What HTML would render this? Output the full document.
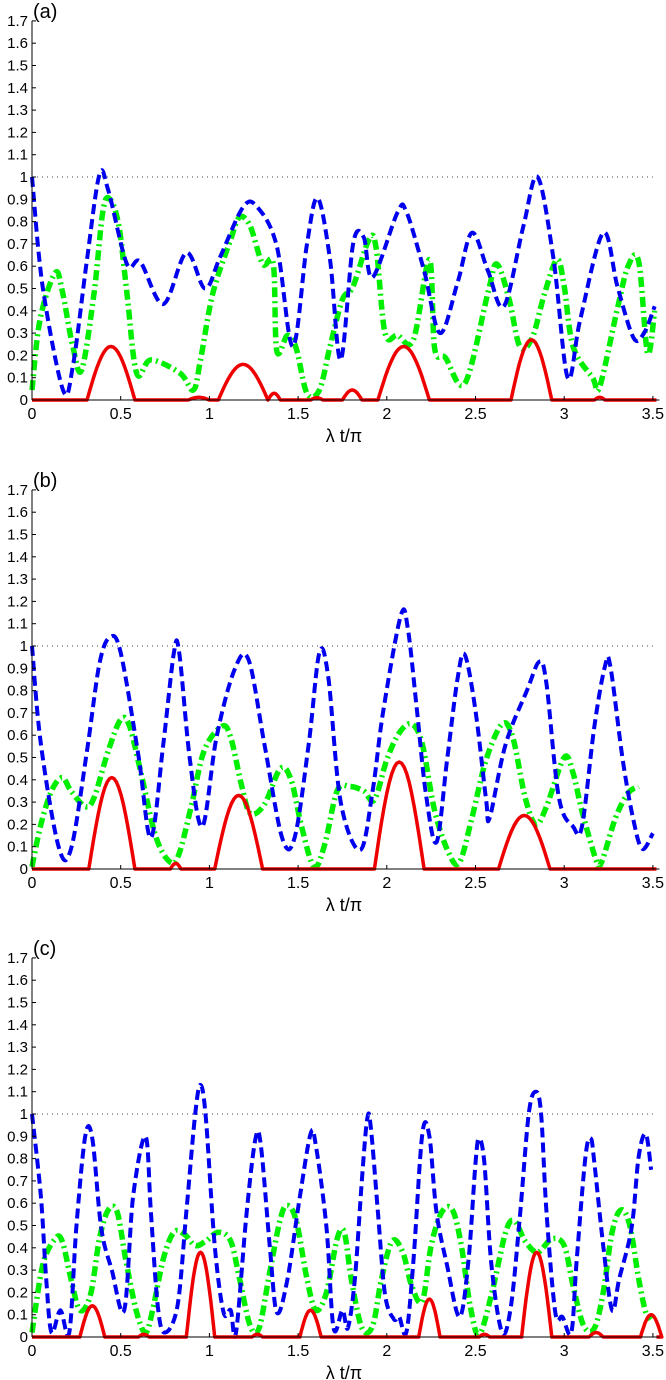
<!DOCTYPE html>
<html><head><meta charset="utf-8"><style>
html,body{margin:0;padding:0;background:#fff;}
svg{display:block;font-family:"Liberation Sans",Arial,sans-serif;}
</style></head><body>
<svg id="chart" width="666" height="1380" viewBox="0 0 666 1380" xmlns="http://www.w3.org/2000/svg"></svg>
<script>
// ---- Panel (a) data ----
const aBlueX=[0,0.06,0.175,0.23,0.31,0.38,0.43,0.535,0.61,0.74,0.87,0.975,1.06,1.19,1.27,1.38,1.47,1.55,1.61,1.68,1.74,1.81,1.87,1.92,2.06,2.11,2.21,2.30,2.40,2.48,2.57,2.66,2.77,2.85,2.94,3.02,3.09,3.22,3.30,3.39,3.45,3.51];
const aBlueV=[1.0,0.51,0.045,0.15,0.63,1.01,0.94,0.61,0.62,0.43,0.66,0.50,0.64,0.865,0.865,0.69,0.24,0.70,0.905,0.63,0.18,0.70,0.73,0.55,0.84,0.845,0.58,0.30,0.53,0.75,0.58,0.42,0.78,1.0,0.63,0.10,0.36,0.75,0.51,0.28,0.30,0.42];
const aGreenX=[0,0.045,0.13,0.17,0.23,0.28,0.35,0.40,0.44,0.49,0.535,0.59,0.67,0.835,0.91,0.95,1.02,1.12,1.17,1.23,1.30,1.36,1.38,1.44,1.49,1.55,1.62,1.68,1.75,1.81,1.90,1.94,1.99,2.06,2.15,2.24,2.27,2.33,2.44,2.57,2.62,2.69,2.75,2.82,2.89,2.96,3.0,3.05,3.16,3.2,3.30,3.36,3.42,3.47,3.51];
const aGreenV=[0.045,0.36,0.57,0.49,0.24,0.135,0.48,0.85,0.90,0.78,0.48,0.12,0.18,0.12,0.045,0.18,0.48,0.72,0.82,0.78,0.61,0.61,0.22,0.29,0.23,0.03,0.045,0.24,0.45,0.51,0.72,0.68,0.30,0.29,0.27,0.63,0.23,0.19,0.075,0.48,0.61,0.45,0.24,0.28,0.48,0.63,0.51,0.24,0.10,0.06,0.41,0.60,0.62,0.21,0.40];
const aRedStart=[0.31,0.88,1.05,1.33,1.57,1.75,1.95,2.70,3.17];
const aRedEnd=[0.58,1.0,1.33,1.40,1.64,1.86,2.24,2.93,3.23];
const aRedPeak=[0.24,0.012,0.16,0.03,0.01,0.045,0.24,0.27,0.012];
// ---- Panel (b) data ----
const bBlueX=[0,0.05,0.15,0.22,0.31,0.38,0.44,0.50,0.60,0.67,0.74,0.80,0.83,0.89,0.96,1.04,1.14,1.22,1.31,1.41,1.48,1.56,1.62,1.67,1.74,1.85,1.92,1.98,2.08,2.12,2.17,2.22,2.28,2.34,2.40,2.44,2.50,2.56,2.58,2.67,2.79,2.86,2.90,2.97,3.05,3.10,3.17,3.23,3.26,3.33,3.39,3.44,3.5];
const bBlueV=[1.0,0.56,0.10,0.09,0.53,0.92,1.04,0.97,0.51,0.14,0.56,0.97,0.97,0.49,0.19,0.59,0.89,0.94,0.56,0.14,0.14,0.56,0.97,0.86,0.30,0.085,0.35,0.71,1.14,1.07,0.71,0.34,0.12,0.49,0.86,0.96,0.71,0.31,0.23,0.56,0.80,0.93,0.83,0.32,0.19,0.19,0.64,0.91,0.91,0.49,0.22,0.09,0.16];
const bGreenX=[0,0.05,0.11,0.17,0.22,0.30,0.35,0.43,0.50,0.55,0.62,0.70,0.78,0.83,0.90,0.97,1.07,1.12,1.18,1.23,1.31,1.40,1.46,1.52,1.59,1.65,1.72,1.79,1.87,1.93,2.0,2.07,2.14,2.20,2.27,2.35,2.41,2.48,2.56,2.65,2.71,2.78,2.84,2.90,3.0,3.05,3.1,3.18,3.21,3.29,3.36,3.42];
const bGreenV=[0.01,0.2,0.35,0.41,0.35,0.28,0.32,0.53,0.67,0.64,0.41,0.14,0.03,0.07,0.29,0.53,0.64,0.59,0.38,0.25,0.29,0.45,0.40,0.19,0.01,0.11,0.35,0.37,0.35,0.31,0.49,0.61,0.65,0.56,0.26,0.07,0.03,0.23,0.49,0.65,0.59,0.32,0.20,0.28,0.50,0.43,0.26,0.04,0.03,0.23,0.34,0.37];
const bRedStart=[0.32,0.78,1.03,1.93,2.63];
const bRedEnd=[0.58,0.84,1.30,2.21,2.92];
const bRedPeak=[0.41,0.025,0.33,0.48,0.24];
// ---- Panel (c) data ----
const cBlueX=[0,0.05,0.08,0.11,0.16,0.21,0.25,0.30,0.34,0.39,0.45,0.52,0.57,0.64,0.67,0.71,0.75,0.82,0.87,0.92,0.95,0.98,1.03,1.08,1.12,1.15,1.21,1.26,1.29,1.34,1.38,1.44,1.51,1.57,1.60,1.66,1.70,1.75,1.78,1.82,1.86,1.89,1.91,1.95,1.99,2.04,2.07,2.11,2.15,2.20,2.24,2.28,2.34,2.41,2.46,2.50,2.52,2.55,2.59,2.65,2.70,2.75,2.80,2.84,2.87,2.90,2.95,2.99,3.04,3.07,3.12,3.15,3.17,3.22,3.27,3.31,3.38,3.42,3.46,3.49];
const cBlueV=[1.0,0.63,0.26,0.02,0.12,0.02,0.49,0.90,0.89,0.49,0.30,0.12,0.63,0.90,0.56,0.13,0.02,0.14,0.56,1.0,1.13,0.98,0.41,0.11,0.12,0.02,0.56,0.89,0.86,0.41,0.11,0.26,0.63,0.91,0.86,0.49,0.04,0.12,0.04,0.26,0.71,0.98,0.94,0.56,0.19,0.08,0.09,0.02,0.34,0.91,0.90,0.56,0.32,0.09,0.34,0.78,0.89,0.78,0.32,0.02,0.14,0.54,1.0,1.1,1.0,0.56,0.11,0.09,0.02,0.34,0.81,0.89,0.78,0.41,0.12,0.26,0.49,0.81,0.91,0.75];
const cGreenX=[0,0.06,0.13,0.17,0.22,0.27,0.33,0.38,0.43,0.48,0.53,0.59,0.64,0.68,0.74,0.80,0.86,0.92,0.98,1.05,1.12,1.17,1.23,1.28,1.34,1.40,1.44,1.49,1.55,1.60,1.66,1.72,1.76,1.80,1.86,1.92,1.97,2.03,2.09,2.14,2.20,2.25,2.31,2.37,2.42,2.47,2.52,2.59,2.67,2.72,2.78,2.85,2.93,3.0,3.05,3.11,3.17,3.22,3.27,3.32,3.37,3.42,3.46,3.49];
const cGreenV=[0.02,0.32,0.44,0.43,0.26,0.12,0.19,0.44,0.57,0.56,0.34,0.11,0.02,0.12,0.35,0.47,0.46,0.41,0.43,0.47,0.43,0.26,0.05,0.04,0.29,0.53,0.59,0.52,0.26,0.12,0.20,0.44,0.47,0.26,0.04,0.05,0.26,0.43,0.38,0.23,0.16,0.41,0.56,0.57,0.41,0.14,0.01,0.19,0.47,0.52,0.43,0.38,0.44,0.41,0.23,0.05,0.04,0.20,0.47,0.57,0.50,0.26,0.11,0.08];
const cRedStart=[0.27,0.60,0.87,1.24,1.51,2.18,2.52,2.76,3.14,3.43];
const cRedEnd=[0.41,0.66,1.03,1.30,1.63,2.30,2.58,2.93,3.22,3.55];
const cRedPeak=[0.14,0.012,0.38,0.012,0.12,0.17,0.012,0.38,0.02,0.10];
const yTicks=["0","0.1","0.2","0.3","0.4","0.5","0.6","0.7","0.8","0.9","1","1.1","1.2","1.3","1.4","1.5","1.6","1.7"];
const xTicks=["0","0.5","1","1.5","2","2.5","3","3.5"];
const panelLabels=["(a)","(b)","(c)"];

const NS="http://www.w3.org/2000/svg";
const svg=document.getElementById('chart');
const X0=32, XS=177.4, YS=223, XMAX=3.52;
function mk(tag,attrs,parent){const e=document.createElementNS(NS,tag);for(const k in attrs)e.setAttribute(k,attrs[k]);(parent||svg).appendChild(e);return e;}
function smoothPath(pts){
  let d="M"+pts[0][0].toFixed(1)+","+pts[0][1].toFixed(1);
  for(let i=0;i<pts.length-1;i++){
    const p0=pts[Math.max(0,i-1)],p1=pts[i],p2=pts[i+1],p3=pts[Math.min(pts.length-1,i+2)];
    const c1=[p1[0]+(p2[0]-p0[0])/6,p1[1]+(p2[1]-p0[1])/6];
    const c2=[p2[0]-(p3[0]-p1[0])/6,p2[1]-(p3[1]-p1[1])/6];
    d+=" C"+c1[0].toFixed(1)+","+c1[1].toFixed(1)+" "+c2[0].toFixed(1)+","+c2[1].toFixed(1)+" "+p2[0].toFixed(1)+","+p2[1].toFixed(1);
  }
  return d;
}
const panels=[
 {zero:400,bx:aBlueX,bv:aBlueV,gx:aGreenX,gv:aGreenV,rs:aRedStart,re:aRedEnd,rp:aRedPeak},
 {zero:869,bx:bBlueX,bv:bBlueV,gx:bGreenX,gv:bGreenV,rs:bRedStart,re:bRedEnd,rp:bRedPeak},
 {zero:1337,bx:cBlueX,bv:cBlueV,gx:cGreenX,gv:cGreenV,rs:cRedStart,re:cRedEnd,rp:cRedPeak}
];
panels.forEach((P,pi)=>{
  const sx=v=>X0+v*XS, sy=v=>P.zero-v*YS;
  const g=mk('g',{});
  
  
  const ref=mk('line',{x1:sx(0),y1:sy(1),x2:sx(3.5),y2:sy(1),stroke:'#444','stroke-width':1,'stroke-dasharray':'1,4'},g);
  
  
  const gp=mk('path',{d:smoothPath(P.gx.map((x,i)=>[sx(x),sy(P.gv[i])])),fill:'none',stroke:'#00ee00','stroke-width':5.5,'stroke-dasharray':'10,4,2,4'},g);
  
  
  const bp=mk('path',{d:smoothPath(P.bx.map((x,i)=>[sx(x),sy(P.bv[i])])),fill:'none',stroke:'#0000ee','stroke-width':4,'stroke-dasharray':'10,5'},g);
  
  
  let d="M"+sx(0)+","+sy(0);
  P.rs.forEach((s,k)=>{
    const e=P.re[k];
    d+=" L"+sx(s).toFixed(1)+","+sy(0);
    for(let j=1;j<=20;j++){const t=j/20;const x=s+(e-s)*t;d+=" L"+sx(x).toFixed(1)+","+sy(P.rp[k]*Math.sin(Math.PI*t)).toFixed(1);}
  });
  d+=" L"+sx(XMAX)+","+sy(0);
  const rp=mk('path',{d:d,fill:'none',stroke:'#ee0000','stroke-width':3.5,'stroke-linejoin':'round'},g);
  
  
  const ya=mk('line',{x1:X0,y1:sy(1.7),x2:X0,y2:sy(0),stroke:'#000','stroke-width':1},g);
  
  
  const xa=mk('line',{x1:X0,y1:sy(0),x2:sx(XMAX)+3,y2:sy(0),stroke:'#000','stroke-width':1},g);
  
  
  yTicks.forEach((t,i)=>{
    const y=sy(i*0.1);
    mk('line',{x1:X0,y1:y,x2:X0+4,y2:y,stroke:'#000','stroke-width':1},g);
    const tx=mk('text',{x:28,y:y+5,'text-anchor':'end','font-size':15},g);
    tx.textContent=t;
    
    
  });
  xTicks.forEach((t,i)=>{
    const x=sx(i*0.5);
    mk('line',{x1:x,y1:sy(0),x2:x,y2:sy(0)-4,stroke:'#000','stroke-width':1},g);
    const tx=mk('text',{x:x,y:sy(0)+19,'text-anchor':'middle','font-size':16},g);
    tx.textContent=t;
    
    
  });
  const xl=mk('text',{x:344,y:sy(0)+42,'text-anchor':'middle','font-size':18},g);
  xl.textContent='λ t/π';
  
  
  const pl=mk('text',{x:33,y:sy(1.7)-3,'font-size':20},g);
  pl.textContent=panelLabels[pi];
  
  
});
</script>
</body></html>
